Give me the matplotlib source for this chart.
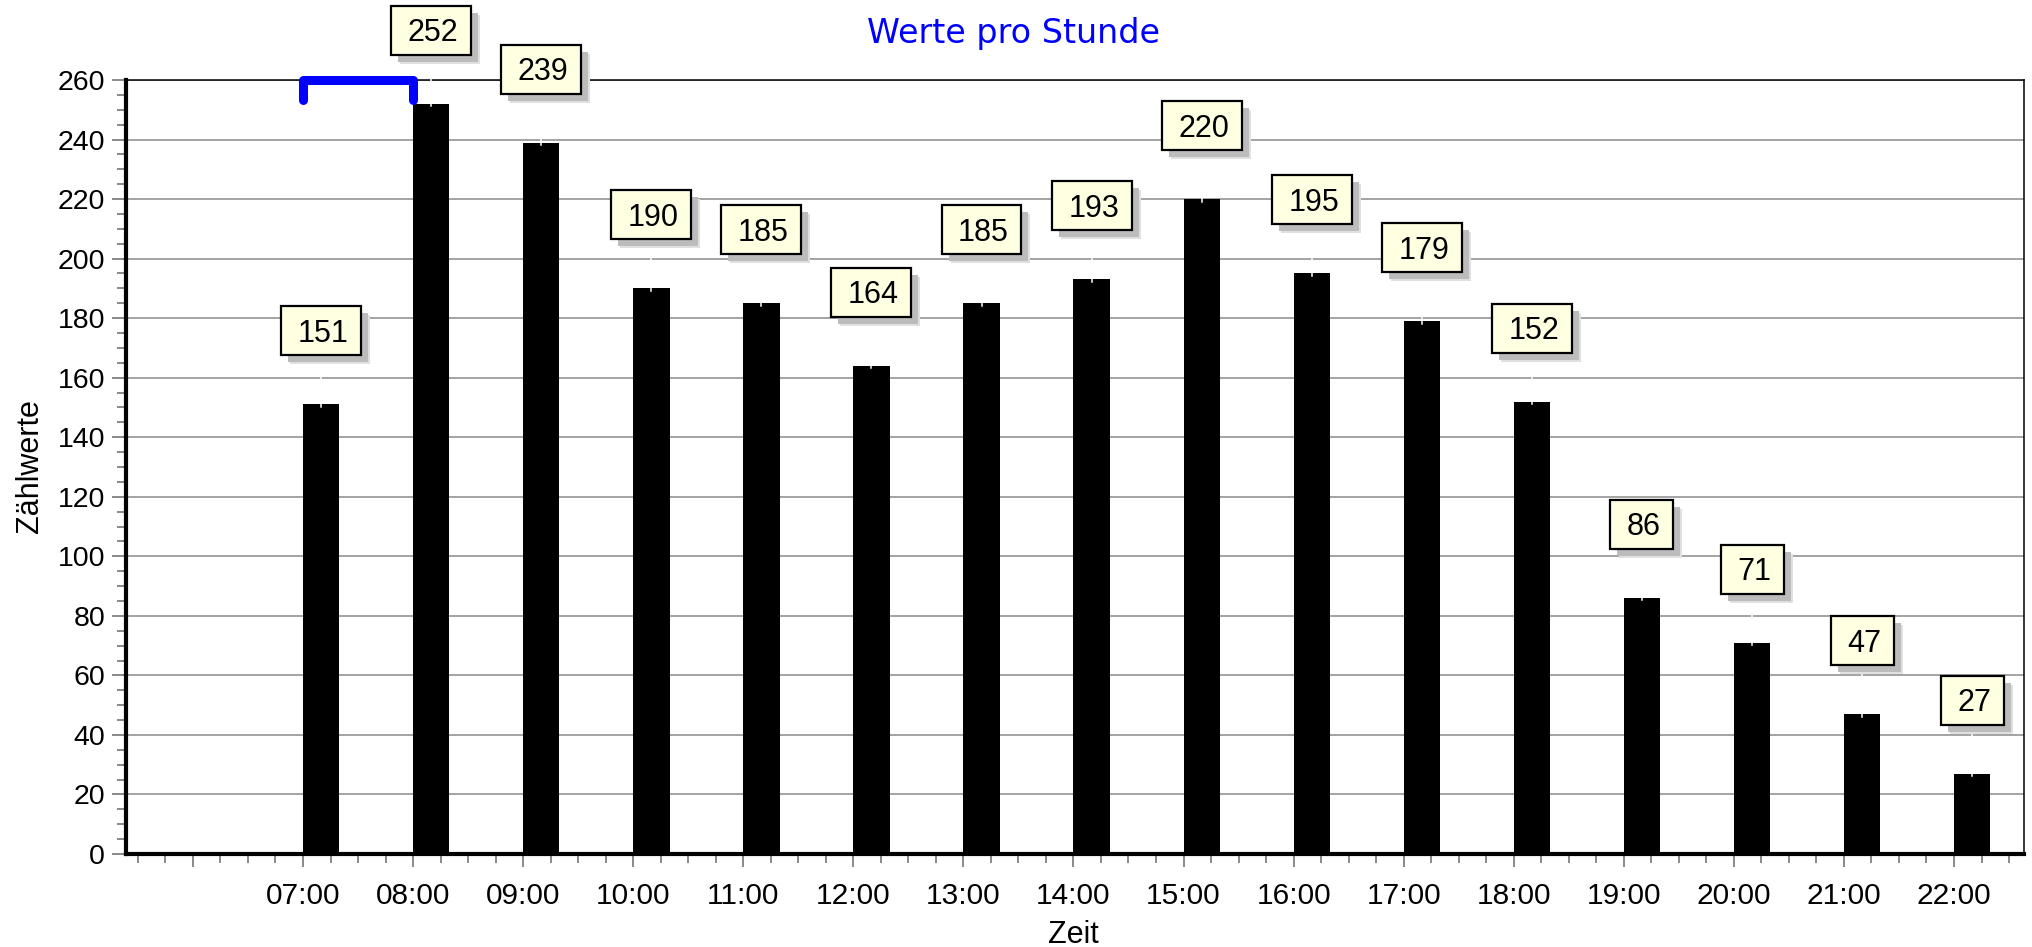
import matplotlib
matplotlib.use("Agg")
import matplotlib.pyplot as plt
from matplotlib.patches import Rectangle
from matplotlib.lines import Line2D
from matplotlib.transforms import IdentityTransform
from matplotlib.ticker import MultipleLocator, FixedLocator

plt.rcParams["font.family"] = ["Liberation Sans", "DejaVu Sans"]

# hourly counts
hours = [7, 8, 9, 10, 11, 12, 13, 14, 15, 16, 17, 18, 19, 20, 21, 22]
counts = [151, 252, 239, 190, 185, 164, 185, 193, 220, 195, 179, 152, 86, 71, 47, 27]

# x axis hour ticks (06:00 carries a tick but no label)
hour_ticks = [6, 7, 8, 9, 10, 11, 12, 13, 14, 15, 16, 17, 18, 19, 20, 21, 22]
hour_labels = ["", "07:00", "08:00", "09:00", "10:00", "11:00", "12:00", "13:00",
               "14:00", "15:00", "16:00", "17:00", "18:00", "19:00", "20:00",
               "21:00", "22:00"]

# blue range marker above the axis
bracket_x = [7, 7, 8, 8]
bracket_y = [253.3, 260, 260, 253.3]

W, H = 2033, 947
fig = plt.figure(figsize=(W / 100, H / 100), dpi=100)
fig.patch.set_facecolor("white")
ax = fig.add_axes([126 / W, 1 - 854 / H, (2024 - 126) / W, (854 - 80) / H])

ax.set_xlim(5.392, 22.636)
ax.set_ylim(0, 260)

bar_w = 0.33
ax.bar(hours, counts, width=bar_w, align="edge", color="black", zorder=3)

ax.yaxis.set_major_locator(MultipleLocator(20))
ax.yaxis.set_minor_locator(MultipleLocator(5))
ax.xaxis.set_major_locator(FixedLocator(hour_ticks))
ax.set_xticklabels(hour_labels)
ax.xaxis.set_minor_locator(MultipleLocator(0.25))

ax.set_axisbelow(True)
ax.grid(axis="y", which="major", color="#8a8a8a", lw=1.1)

for side in ("left", "bottom"):
    ax.spines[side].set_linewidth(3.0)
    ax.spines[side].set_color("black")
for side in ("top", "right"):
    ax.spines[side].set_linewidth(1.1)
    ax.spines[side].set_color("black")

ax.tick_params(axis="x", which="major", length=9.5, width=1.3, color="#808080",
               labelsize=21.5, pad=10.5)
ax.tick_params(axis="x", which="minor", length=6.5, width=1.3, color="#808080")
ax.tick_params(axis="y", which="major", length=10, width=1.3, color="#808080",
               labelsize=20.5, pad=5)
ax.tick_params(axis="y", which="minor", length=6.5, width=1.3, color="#808080")

ax.plot(bracket_x, bracket_y, color="#0000ff", lw=6.5, solid_capstyle="round",
        solid_joinstyle="round", clip_on=False, zorder=6)

fig.text(1014 / W, 1 - 43 / H, "Werte pro Stunde", color="#0000ff", fontsize=24,
         family="DejaVu Sans", ha="center", va="baseline")
fig.text(1073 / W, 4 / H, "Zeit", fontsize=22, ha="center", va="baseline")
fig.text(30.5 / W, 1 - 466.5 / H, "Zählwerte", fontsize=22, rotation=90,
         ha="center", va="center")

# value boxes with drop shadow and a thin white leader down to each bar
fig.canvas.draw()
renderer = fig.canvas.get_renderer()
ident = IdentityTransform()
label_size = 22
gap_px, box_h, pad_w = 49, 49, 29
for h, v in zip(hours, counts):
    cx, top = ax.transData.transform((h + bar_w / 2, v))
    y0 = top + gap_px
    yc = y0 + box_h / 2
    t = fig.text(cx + 2, yc - 0.358 * label_size * 100 / 72, str(v),
                 fontsize=label_size, ha="center", va="baseline",
                 transform=ident, zorder=7)
    tw = t.get_window_extent(renderer).width
    bw = tw + pad_w
    x0 = cx - bw / 2
    fig.add_artist(Rectangle((x0 + 9, y0 - 9), bw, box_h, transform=ident,
                             facecolor="#e0e0e0", edgecolor="none", zorder=4.8))
    fig.add_artist(Rectangle((x0 + 7, y0 - 7), bw, box_h, transform=ident,
                             facecolor="#bcbcbc", edgecolor="none", zorder=4.9))
    fig.add_artist(Rectangle((x0, y0), bw, box_h, transform=ident,
                             facecolor="#ffffe2", edgecolor="black", lw=1.6,
                             zorder=5))
    fig.add_artist(Line2D([cx, cx], [top - 2.5, y0 - 1], transform=ident,
                          color="white", lw=1.1, zorder=4.5))

fig.savefig("out.png", dpi=100)
